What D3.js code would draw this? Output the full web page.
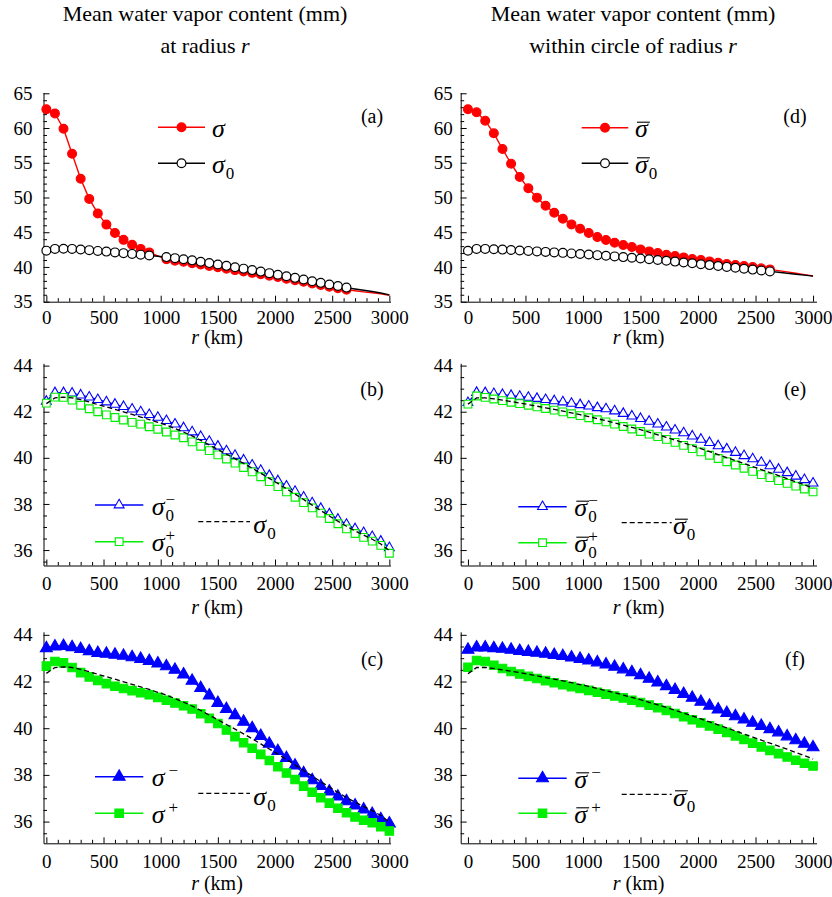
<!DOCTYPE html>
<html>
<head>
<meta charset="utf-8">
<script src="https://cdn.jsdelivr.net/npm/d3@7"></script>
<style>
body { margin: 0; background: #fff; }
svg text { font-family: "Liberation Serif", "DejaVu Serif", serif; fill: #000; }
</style>
</head>
<body>
<svg id="chart" width="832" height="897"></svg>
<script>
// radius r (km), one value every 75 km
const radius = [0, 75, 150, 225, 300, 375, 450, 525, 600, 675, 750, 825, 900, 975, 1050, 1125, 1200, 1275, 1350, 1425,
  1500, 1575, 1650, 1725, 1800, 1875, 1950, 2025, 2100, 2175, 2250, 2325, 2400, 2475, 2550, 2625, 2700, 2775, 2850, 2925, 3000];

// (a) at radius r
const sigma = [62.7, 62.1, 59.9, 56.3, 52.7, 49.8, 47.7, 46.1, 44.9, 43.9, 43.2, 42.6, 42.1, 41.6, 41.1, 40.9, 40.75, 40.55, 40.35, 40.15,
  39.95, 39.75, 39.55, 39.35, 39.15, 38.95, 38.75, 38.55, 38.3, 38.1, 37.87, 37.63, 37.4, 37.17, 36.95, 36.73, 36.58, 36.42, 36.28, 36.12, 35.93];
const sigma0 = [42.35, 42.6, 42.63, 42.6, 42.52, 42.42, 42.31, 42.21, 42.1, 41.99, 41.88, 41.77, 41.66, 41.54, 41.42, 41.27, 41.12, 40.95, 40.76, 40.56,
  40.36, 40.16, 39.96, 39.76, 39.55, 39.33, 39.11, 38.89, 38.66, 38.43, 38.19, 37.95, 37.71, 37.48, 37.25, 37.03, 36.83, 36.65, 36.47, 36.26, 35.98];
// (b)
const sigma0Minus = [42.45, 42.82, 42.82, 42.8, 42.72, 42.63, 42.52, 42.42, 42.32, 42.22, 42.11, 41.99, 41.87, 41.75, 41.61, 41.46, 41.3, 41.12, 40.92, 40.71,
  40.5, 40.3, 40.1, 39.9, 39.68, 39.45, 39.23, 39.0, 38.77, 38.54, 38.29, 38.04, 37.8, 37.56, 37.33, 37.11, 36.92, 36.75, 36.58, 36.38, 36.1];
const sigma0Plus = [42.37, 42.63, 42.62, 42.5, 42.28, 42.13, 42.0, 41.86, 41.75, 41.64, 41.54, 41.46, 41.35, 41.24, 41.12, 40.99, 40.87, 40.69, 40.5, 40.31,
  40.13, 39.95, 39.77, 39.58, 39.39, 39.18, 38.97, 38.75, 38.52, 38.29, 38.06, 37.83, 37.6, 37.37, 37.14, 36.92, 36.72, 36.55, 36.39, 36.2, 35.86];
// (c)
const sigmaMinus = [43.43, 43.5, 43.52, 43.47, 43.39, 43.3, 43.22, 43.19, 43.15, 43.1, 43.04, 42.97, 42.88, 42.77, 42.65, 42.5, 42.3, 42.03, 41.72, 41.4,
  41.08, 40.82, 40.56, 40.28, 40.0, 39.67, 39.33, 39.02, 38.72, 38.4, 38.07, 37.77, 37.52, 37.29, 37.07, 36.87, 36.69, 36.52, 36.33, 36.1, 35.92];
const sigmaPlus = [42.66, 42.86, 42.8, 42.6, 42.38, 42.2, 42.05, 41.91, 41.8, 41.7, 41.61, 41.52, 41.43, 41.32, 41.2, 41.08, 40.96, 40.82, 40.62, 40.42,
  40.2, 39.92, 39.64, 39.38, 39.14, 38.88, 38.62, 38.35, 38.08, 37.8, 37.52, 37.26, 37.02, 36.79, 36.57, 36.38, 36.2, 36.06, 35.95, 35.78, 35.6];

// (d) within circle of radius r
const sigmaBar = [62.7, 62.26, 61.06, 59.24, 56.98, 54.87, 52.95, 51.32, 49.98, 48.82, 47.81, 46.95, 46.13, 45.51, 44.89, 44.31, 43.88, 43.49, 43.16, 42.87,
  42.53, 42.24, 42.0, 41.76, 41.57, 41.38, 41.14, 41.0, 40.8, 40.61, 40.42, 40.28, 40.13, 39.99, 39.8, 39.65, 39.48, 39.3, 39.1, 38.9, 38.7];
const sigma0Bar = [42.33, 42.6, 42.6, 42.56, 42.5, 42.44, 42.38, 42.31, 42.24, 42.17, 42.1, 42.03, 41.95, 41.87, 41.79, 41.7, 41.61, 41.52, 41.42, 41.32,
  41.22, 41.11, 41.0, 40.89, 40.77, 40.65, 40.53, 40.4, 40.27, 40.14, 40.01, 39.88, 39.75, 39.62, 39.49, 39.36, 39.23, 39.1, 38.96, 38.83, 38.68];
// (e)
const sigma0BarMinus = [42.39, 42.83, 42.82, 42.78, 42.74, 42.7, 42.66, 42.62, 42.57, 42.52, 42.47, 42.42, 42.36, 42.3, 42.24, 42.17, 42.12, 42.03, 41.92, 41.81,
  41.7, 41.58, 41.46, 41.33, 41.2, 41.08, 40.94, 40.8, 40.66, 40.52, 40.38, 40.23, 40.09, 39.95, 39.8, 39.65, 39.5, 39.35, 39.2, 39.05, 38.9];
const sigma0BarPlus = [42.33, 42.68, 42.62, 42.55, 42.48, 42.41, 42.35, 42.28, 42.21, 42.14, 42.07, 41.99, 41.91, 41.83, 41.74, 41.65, 41.56, 41.46, 41.36, 41.25,
  41.14, 41.03, 40.92, 40.8, 40.67, 40.54, 40.4, 40.26, 40.11, 39.97, 39.83, 39.69, 39.55, 39.41, 39.27, 39.14, 39.01, 38.89, 38.77, 38.65, 38.52];
// (f)
const sigmaBarMinus = [43.36, 43.46, 43.46, 43.43, 43.4, 43.36, 43.31, 43.27, 43.23, 43.19, 43.14, 43.09, 43.03, 42.97, 42.9, 42.82, 42.73, 42.63, 42.52, 42.4,
  42.27, 42.12, 41.96, 41.8, 41.64, 41.47, 41.3, 41.13, 40.96, 40.8, 40.65, 40.51, 40.37, 40.23, 40.1, 39.96, 39.82, 39.65, 39.48, 39.33, 39.18];
const sigmaBarPlus = [42.61, 42.9, 42.86, 42.7, 42.56, 42.43, 42.32, 42.22, 42.13, 42.04, 41.95, 41.86, 41.78, 41.7, 41.62, 41.54, 41.46, 41.38, 41.3, 41.2,
  41.1, 40.99, 40.88, 40.76, 40.63, 40.49, 40.36, 40.23, 40.1, 39.96, 39.82, 39.67, 39.52, 39.36, 39.2, 39.05, 38.91, 38.77, 38.63, 38.5, 38.38];

const xTicks = [0, 500, 1000, 1500, 2000, 2500, 3000];
const yTicksTop = [35, 40, 45, 50, 55, 60, 65];
const yTicksLow = [36, 38, 40, 42, 44];

const RED = "#ff0000", BLUE = "#0000ff", GREEN = "#00ee00", BLACK = "#000";
const FONT = '"Liberation Serif", "DejaVu Serif", serif';

const svg = d3.select("#chart");

// column / row geometry
const cols = [
  {range: [43.5, 390.5], domain: [-25, 3010], ylabPad: 11, tagX: 372},
  {range: [460.7, 816.5], domain: [-63, 3030], ylabPad: 8, tagX: 795}
];
const rows = [
  {range: [301.7, 92.6], domain: [35, 65.1], ticks: yTicksTop, minor: d3.range(35, 65.01, 1), xlabPad: 8.5, titleOff: 42, tagY: 123},
  {range: [565.5, 363.3], domain: [35.33, 44.1], ticks: yTicksLow, minor: d3.range(35.5, 44.01, 0.5), xlabPad: 11.5, titleOff: 48, tagY: 396},
  {range: [843.3, 631.8], domain: [35.07, 44.13], ticks: yTicksLow, minor: d3.range(35.5, 44.01, 0.5), xlabPad: 11.5, titleOff: 47, tagY: 666}
];

// titles
const titles = [
  {x: 205, l1: "Mean water vapor content (mm)", l2: "at radius "},
  {x: 633, l1: "Mean water vapor content (mm)", l2: "within circle of radius "}
];
titles.forEach(t => {
  svg.append("text").attr("x", t.x).attr("y", 21).attr("text-anchor", "middle")
    .style("font-size", "22px").text(t.l1);
  const l2 = svg.append("text").attr("x", t.x).attr("y", 53).attr("text-anchor", "middle")
    .style("font-size", "22px");
  l2.append("tspan").text(t.l2);
  l2.append("tspan").style("font-style", "italic").text("r");
});

function marker(g, type, x, y, color, filled) {
  if (type === "circle") {
    g.append("circle").attr("cx", x).attr("cy", y).attr("r", 4.4)
      .attr("fill", filled ? color : "#fff").attr("stroke", color).attr("stroke-width", 1.2);
  } else {
    const sym = d3.symbol()
      .type(type === "triangle" ? d3.symbolTriangle : d3.symbolSquare)
      .size(type === "triangle" ? (filled ? 62 : 42) : (filled ? 72 : 60));
    g.append("path").attr("d", sym()).attr("transform", `translate(${x},${y})`)
      .attr("fill", filled ? color : "#fff").attr("stroke", color).attr("stroke-width", 1.1);
  }
}

// sigma label: one text element, sub/superscripts stacked with tspans
function label(g, tx, base, lab) {
  const t = g.append("text").attr("x", tx).attr("y", base).style("font-size", "26px");
  const s = t.append("tspan").style("font-style", "italic").text("\u03c3");
  const w = s.node().getComputedTextLength();
  if (lab.sub) {
    t.append("tspan").attr("dx", 1).attr("dy", 6).style("font-size", "17px").text(lab.sub);
  }
  if (lab.sup) {
    const back = lab.sub ? -8.5 : 4;
    t.append("tspan").attr("dx", back).attr("dy", lab.sub ? -16 : -10).style("font-size", "17px").text(lab.sup);
  }
  if (lab.bar) {
    g.append("line").attr("x1", tx + 2).attr("x2", tx + w + 2)
      .attr("y1", base - 15).attr("y2", base - 15).attr("stroke", BLACK).attr("stroke-width", 1.1);
  }
}

function drawPanel(p) {
  const c = cols[p.col], r = rows[p.row];
  const x = d3.scaleLinear().domain(c.domain).range(c.range);
  const y = d3.scaleLinear().domain(r.domain).range(r.range);
  const g = svg.append("g");

  // axes, ticks pointing inward
  const ax = g.append("g").attr("transform", `translate(0,${r.range[0]})`)
    .call(d3.axisBottom(x).tickValues(xTicks).tickFormat(d3.format("d"))
      .tickSize(-6).tickSizeOuter(0).tickPadding(r.xlabPad));
  g.append("g").attr("transform", `translate(0,${r.range[0]})`)
    .call(d3.axisBottom(x).tickValues(d3.range(0, 3001, 100).filter(v => v % 500)).tickSize(-3.5).tickFormat(""))
    .select(".domain").remove();
  const ay = g.append("g").attr("transform", `translate(${c.range[0]},0)`)
    .call(d3.axisLeft(y).tickValues(r.ticks).tickFormat(d3.format("d"))
      .tickSize(-6).tickSizeOuter(0).tickPadding(c.ylabPad));
  g.append("g").attr("transform", `translate(${c.range[0]},0)`)
    .call(d3.axisLeft(y).tickValues(r.minor.filter(v => !r.ticks.includes(v))).tickSize(-3.5).tickFormat(""))
    .select(".domain").remove();
  [ax, ay].forEach(a => a.attr("font-family", FONT).selectAll("text")
    .style("font-family", FONT).style("font-size", "19px").attr("fill", BLACK));

  g.append("text").attr("x", (c.range[0] + c.range[1]) / 2).attr("y", r.range[0] + r.titleOff)
    .attr("text-anchor", "middle").style("font-size", "20px")
    .call(t => {
      t.append("tspan").style("font-style", "italic").text("r");
      t.append("tspan").text(" (km)");
    });

  g.append("text").attr("x", c.tagX).attr("y", r.tagY).attr("text-anchor", "middle")
    .style("font-size", "20px").text(`(${p.id})`);

  const line = d3.line().x((d, i) => x(radius[i])).y(d => y(d));
  p.series.forEach(s => {
    g.append("path").datum(s.values).attr("d", line).attr("fill", "none")
      .attr("stroke", s.color).attr("stroke-width", s.dash ? 1.3 : 1.4)
      .attr("stroke-dasharray", s.dash ? "5,3" : null);
    if (s.marker) {
      s.values.forEach((v, i) => {
        if (i > s.upto || (s.skip && s.skip.includes(i))) return;
        marker(g, s.marker, x(radius[i]), y(v), s.color, s.filled);
      });
    }
  });

  p.legend.forEach(l => {
    const s = p.series[l.s];
    g.append("line").attr("x1", l.x1).attr("x2", l.x2).attr("y1", l.y).attr("y2", l.y)
      .attr("stroke", s.color).attr("stroke-width", s.dash ? 1.3 : 1.4)
      .attr("stroke-dasharray", s.dash ? "5,3" : null);
    if (s.marker) marker(g, s.marker, (l.x1 + l.x2) / 2, l.y, s.color, s.filled);
    label(g, l.tx, l.y + (s.dash ? 11.5 : 9.5), l.lab);
  });
}

const panels = [
  {id: "a", col: 0, row: 0,
    series: [
      {values: sigma, color: RED, marker: "circle", filled: true, upto: 35, skip: [13]},
      {values: sigma0, color: BLACK, marker: "circle", filled: false, upto: 35, skip: [13]}
    ],
    legend: [
      {s: 0, x1: 158, x2: 205, y: 127.3, tx: 212, lab: {}},
      {s: 1, x1: 158, x2: 205, y: 163.3, tx: 212, lab: {sub: "0"}}
    ]},
  {id: "b", col: 0, row: 1,
    series: [
      {values: sigma0Minus, color: BLUE, marker: "triangle", filled: false, upto: 40},
      {values: sigma0Plus, color: GREEN, marker: "square", filled: false, upto: 40},
      {values: sigma0, color: BLACK, dash: true}
    ],
    legend: [
      {s: 0, x1: 95, x2: 143.3, y: 505, tx: 151.7, lab: {sub: "0", sup: "\u2212"}},
      {s: 1, x1: 95, x2: 143.3, y: 541.7, tx: 151.7, lab: {sub: "0", sup: "+"}},
      {s: 2, x1: 198.3, x2: 250, y: 521.7, tx: 253.3, lab: {sub: "0"}}
    ]},
  {id: "c", col: 0, row: 2,
    series: [
      {values: sigmaMinus, color: BLUE, marker: "triangle", filled: true, upto: 40},
      {values: sigmaPlus, color: GREEN, marker: "square", filled: true, upto: 40},
      {values: sigma0, color: BLACK, dash: true}
    ],
    legend: [
      {s: 0, x1: 95, x2: 143.3, y: 776.7, tx: 151.7, lab: {sup: "\u2212"}},
      {s: 1, x1: 95, x2: 143.3, y: 813.3, tx: 151.7, lab: {sup: "+"}},
      {s: 2, x1: 198.3, x2: 250, y: 793.3, tx: 253.3, lab: {sub: "0"}}
    ]},
  {id: "d", col: 1, row: 0,
    series: [
      {values: sigmaBar, color: RED, marker: "circle", filled: true, upto: 35},
      {values: sigma0Bar, color: BLACK, marker: "circle", filled: false, upto: 35}
    ],
    legend: [
      {s: 0, x1: 581.7, x2: 628.3, y: 127.7, tx: 635, lab: {bar: true}},
      {s: 1, x1: 581.7, x2: 628.3, y: 163.3, tx: 635, lab: {bar: true, sub: "0"}}
    ]},
  {id: "e", col: 1, row: 1,
    series: [
      {values: sigma0BarMinus, color: BLUE, marker: "triangle", filled: false, upto: 40},
      {values: sigma0BarPlus, color: GREEN, marker: "square", filled: false, upto: 40},
      {values: sigma0Bar, color: BLACK, dash: true}
    ],
    legend: [
      {s: 0, x1: 518.3, x2: 566.7, y: 506.7, tx: 574.3, lab: {bar: true, sub: "0", sup: "\u2212"}},
      {s: 1, x1: 518.3, x2: 566.7, y: 542.7, tx: 574.3, lab: {bar: true, sub: "0", sup: "+"}},
      {s: 2, x1: 621.7, x2: 671.7, y: 522.7, tx: 673, lab: {bar: true, sub: "0"}}
    ]},
  {id: "f", col: 1, row: 2,
    series: [
      {values: sigmaBarMinus, color: BLUE, marker: "triangle", filled: true, upto: 40},
      {values: sigmaBarPlus, color: GREEN, marker: "square", filled: true, upto: 40},
      {values: sigma0Bar, color: BLACK, dash: true}
    ],
    legend: [
      {s: 0, x1: 518.3, x2: 566.7, y: 778.3, tx: 574.3, lab: {bar: true, sup: "\u2212"}},
      {s: 1, x1: 518.3, x2: 566.7, y: 813.3, tx: 574.3, lab: {bar: true, sup: "+"}},
      {s: 2, x1: 621.7, x2: 671.7, y: 794.3, tx: 673, lab: {bar: true, sub: "0"}}
    ]}
];

panels.forEach(drawPanel);
</script>
</body>
</html>
